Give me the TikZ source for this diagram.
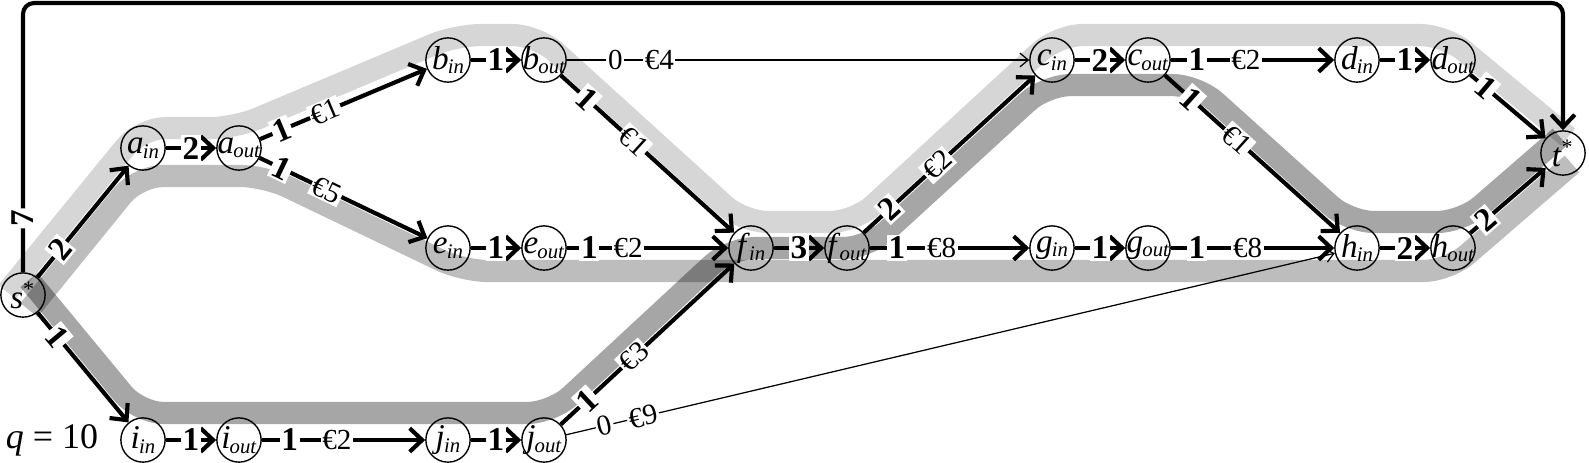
\documentclass[tikz,border=0pt]{standalone}
\usepackage{fontspec}
\setmainfont{Liberation Serif}
\usetikzlibrary{arrows.meta}

\tikzset{
  vtx/.style={draw,circle,line width=0.5pt,minimum size=16pt,inner sep=0pt,font=\fontsize{12}{13}\selectfont},
  flow/.style={line width=1.5pt,-{Straight Barb[length=4.5pt,width=8.5pt]}},
  thinflow/.style={line width=0.45pt,-{Straight Barb[length=3pt,width=5pt]}},
  num/.style={fill=white,inner sep=0.6pt,sloped,font=\fontsize{12}{13}\selectfont\bfseries},
  cost/.style={fill=white,inner sep=0.6pt,sloped,font=\fontsize{10.5}{12}\selectfont},
  band/.style={line width=8pt,rounded corners=9pt,opacity=#1}
}
\newcommand{\io}[2]{\makebox[8pt]{\textit{#1}\kern-0.3pt\raisebox{-0.3ex}{\fontsize{7.5}{8}\selectfont\textit{#2}}}}
\newcommand{\st}[1]{\makebox[6pt]{\textit{#1}\textsuperscript{*}}}

\begin{document}
\begin{tikzpicture}[x=0.3614pt,y=-0.3614pt]
        \useasboundingbox (0,0) rectangle (1589,462);

        % Draw the three paths of the flow
        \draw[band=.16] (7,292) -- (141,128) -- (235,128) -- (456,35) -- (537,35) -- (743,222) -- (855,222) -- (1058,35) -- (1445,35) -- (1568,137);
        \draw[band=.26] (29,310) -- (138,176) -- (265,176) -- (463,271) -- (1448,271) -- (1572,164);
        \draw[band=.35] (29,280) -- (139,413) -- (552,413) -- (730,248) -- (868,248) -- (1046,85) -- (1197,85) -- (1349,222) -- (1462,222) -- (1560,137);

        % Draw the nodes
        \node[vtx] (s) at (23,295) {\st{s}};
        \node[vtx] (t) at (1563,153) {\st{t}};
        \node[vtx] (ain) at (143,148) {\io{a}{in}};
        \node[vtx] (aout) at (239,148) {\io{a}{out}};
        \node[vtx] (bin) at (448,60) {\io{b}{in}};
        \node[vtx] (bout) at (544,60) {\io{b}{out}};
        \node[vtx] (cin) at (1052,60) {\io{c}{in}};
        \node[vtx] (cout) at (1148,60) {\io{c}{out}};
        \node[vtx] (din) at (1357,60) {\io{d}{in}};
        \node[vtx] (dout) at (1453,60) {\io{d}{out}};
        \node[vtx] (ein) at (448,248) {\io{e}{in}};
        \node[vtx] (eout) at (544,248) {\io{e}{out}};
        \node[vtx] (fin) at (751,248) {\io{f}{in}};
        \node[vtx] (fout) at (847,248) {\io{f}{out}};
        \node[vtx] (gin) at (1052,248) {\io{g}{in}};
        \node[vtx] (gout) at (1148,248) {\io{g}{out}};
        \node[vtx] (hin) at (1357,248) {\io{h}{in}};
        \node[vtx] (hout) at (1453,248) {\io{h}{out}};
        \node[vtx] (iin) at (143,440) {\io{i}{in}};
        \node[vtx] (iout) at (239,440) {\io{i}{out}};
        \node[vtx] (jin) at (448,440) {\io{j}{in}};
        \node[vtx] (jout) at (544,440) {\io{j}{out}};
        \node[font=\fontsize{13}{14}\selectfont] (q) at (52,440) {\textit{q} = 10};

        % Draw the arcs out of s* and into t*
        \draw[flow,rounded corners=4pt] (s) -- node[num,pos=.2]{7} (23,3) -| (t);
        \draw[flow] (s) -- node[num,pos=.25]{2} (ain);
        \draw[flow] (s) -- node[num,pos=.22]{1} (iin);
        \draw[flow] (dout) -- node[num,pos=.2]{1} (t);
        \draw[flow] (hout) -- node[num,pos=.2]{2} (t);

        % Draw the arcs inside each node
        \draw[flow] (ain) -- node[num]{2} (aout);
        \draw[flow] (bin) -- node[num]{1} (bout);
        \draw[flow] (cin) -- node[num]{2} (cout);
        \draw[flow] (din) -- node[num]{1} (dout);
        \draw[flow] (ein) -- node[num]{1} (eout);
        \draw[flow] (fin) -- node[num]{3} (fout);
        \draw[flow] (gin) -- node[num]{1} (gout);
        \draw[flow] (hin) -- node[num]{2} (hout);
        \draw[flow] (iin) -- node[num]{1} (iout);
        \draw[flow] (jin) -- node[num]{1} (jout);

        % Draw the arcs between the nodes
        \draw[flow] (aout) -- node[num,pos=.13]{1} node[cost,pos=.39]{€1} (bin);
        \draw[flow] (aout) -- node[num,pos=.13]{1} node[cost,pos=.4]{€5} (ein);
        \draw[flow] (bout) -- node[num,pos=.15]{1} node[cost,pos=.42]{€1} (fin);
        \draw[flow] (eout) -- node[num,pos=.14]{1} node[cost,pos=.38]{€2} (fin);
        \draw[flow] (jout) -- node[num,pos=.15]{1} node[cost,pos=.42]{€3} (fin);
        \draw[flow] (fout) -- node[num,pos=.15]{2} node[cost,pos=.43]{€2} (cin);
        \draw[flow] (fout) -- node[num,pos=.17]{1} node[cost,pos=.45]{€8} (gin);
        \draw[flow] (cout) -- node[num,pos=.16]{1} node[cost,pos=.46]{€2} (din);
        \draw[flow] (cout) -- node[num,pos=.15]{1} node[cost,pos=.41]{€1} (hin);
        \draw[flow] (gout) -- node[num,pos=.16]{1} node[cost,pos=.47]{€8} (hin);
        \draw[flow] (iout) -- node[num,pos=.17]{1} node[cost,pos=.46]{€2} (jin);
        \draw[thinflow] (bout) -- node[cost,pos=.105]{0} node[cost,pos=.2]{€4} (cin);
        \draw[thinflow] (jout) -- node[cost,pos=.05]{0} node[cost,pos=.1]{€9} (hin);
    \end{tikzpicture}
\end{document}
